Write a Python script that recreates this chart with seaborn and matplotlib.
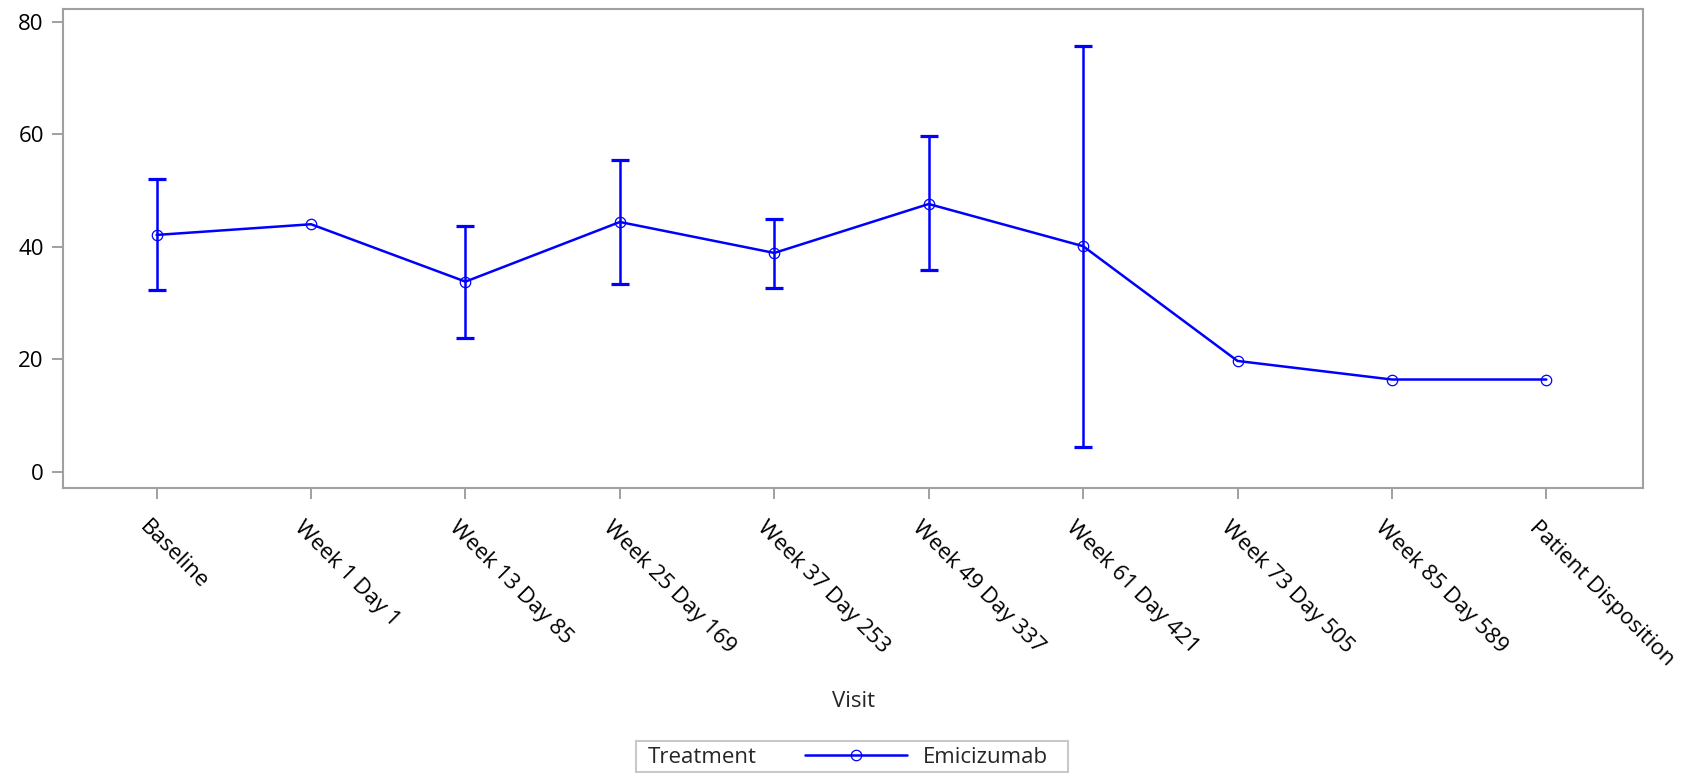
import numpy as np
import pandas as pd
import matplotlib
matplotlib.use("Agg")
import matplotlib.pyplot as plt
import matplotlib.transforms as mtransforms
import seaborn as sns
from matplotlib.lines import Line2D
from matplotlib.patches import Rectangle

# visits on the x axis
visits = ["Baseline", "Week 1 Day 1", "Week 13 Day 85", "Week 25 Day 169",
          "Week 37 Day 253", "Week 49 Day 337", "Week 61 Day 421",
          "Week 73 Day 505", "Week 85 Day 589", "Patient Disposition"]
# mean values and error bar limits (nan = no bar)
mean_values = [42.1, 44.0, 33.8, 44.4, 38.9, 47.6, 40.1, 19.7, 16.4, 16.4]
lower_values = [32.4, np.nan, 23.8, 33.3, 32.7, 35.9, 4.4, np.nan, np.nan, np.nan]
upper_values = [52.0, np.nan, 43.6, 55.5, 45.0, 59.6, 75.7, np.nan, np.nan, np.nan]
treatment = "Emicizumab"
y_ticks = [0, 20, 40, 60, 80]

BLUE = "#0000FF"
GRAY = "#A0A0A0"

sns.set_theme(style="white")
plt.rcParams["font.family"] = ["Open Sans", "DejaVu Sans"]

fig = plt.figure(figsize=(16.86, 7.73), dpi=100)
ax = fig.add_axes([0.0375, 0.3693, 0.937, 0.6197])

df = pd.DataFrame({"Visit": visits, "Mean": mean_values})
sns.lineplot(data=df, x="Visit", y="Mean", sort=False, errorbar=None,
             color=BLUE, linewidth=1.8, marker="o", markersize=7.5,
             markerfacecolor="none", markeredgecolor=BLUE,
             markeredgewidth=0.9, legend=False, ax=ax)

mean_arr = np.array(mean_values)
yerr = [mean_arr - np.array(lower_values), np.array(upper_values) - mean_arr]
ax.errorbar(visits, mean_values, yerr=yerr, fmt="none", ecolor=BLUE,
            elinewidth=1.8, capsize=6.5, capthick=2.3)

ax.set_xlim(-0.605, 9.626)
ax.set_ylim(-2.8, 82.35)
ax.set_yticks(y_ticks)
ax.set_ylabel("")
ax.set_xlabel("Visit", fontsize=16)
ax.xaxis.label.set_va("center")
ax.xaxis.set_label_coords(0.5, -0.4457)

for side in ax.spines.values():
    side.set_color(GRAY)
    side.set_linewidth(1.5)
ax.tick_params(bottom=True, left=True, direction="out", color=GRAY,
               length=8, width=1.4, labelsize=16, labelcolor="black")
ax.tick_params(axis="x", pad=13)
ax.tick_params(axis="y", pad=6)
shift = mtransforms.ScaledTranslation(-6 / 100, 0, fig.dpi_scale_trans)
for lbl in ax.get_xticklabels():
    lbl.set_rotation(-45)
    lbl.set_ha("left")
    lbl.set_va("top")
    lbl.set_rotation_mode("anchor")
    lbl.set_transform(lbl.get_transform() + shift)

# legend box at the bottom
fig.patches.append(Rectangle((636 / 1686, 0.0015), 432 / 1686, 31 / 773,
                             transform=fig.transFigure, fill=False,
                             edgecolor="#C8C8C8", linewidth=1.5))
fig.text(648 / 1686, 0.0198, "Treatment", fontsize=16, va="center", ha="left")
handle = Line2D([], [], color=BLUE, linewidth=1.8, marker="o", markersize=7.5,
                markerfacecolor="none", markeredgecolor=BLUE, markeredgewidth=0.9)
fig.legend(handles=[handle], labels=[treatment], loc="center left",
           bbox_to_anchor=(805 / 1686, 0.0198), frameon=False, fontsize=16,
           handlelength=4.6, handletextpad=0.72, borderpad=0, borderaxespad=0)

fig.savefig("out.png", dpi=100)
